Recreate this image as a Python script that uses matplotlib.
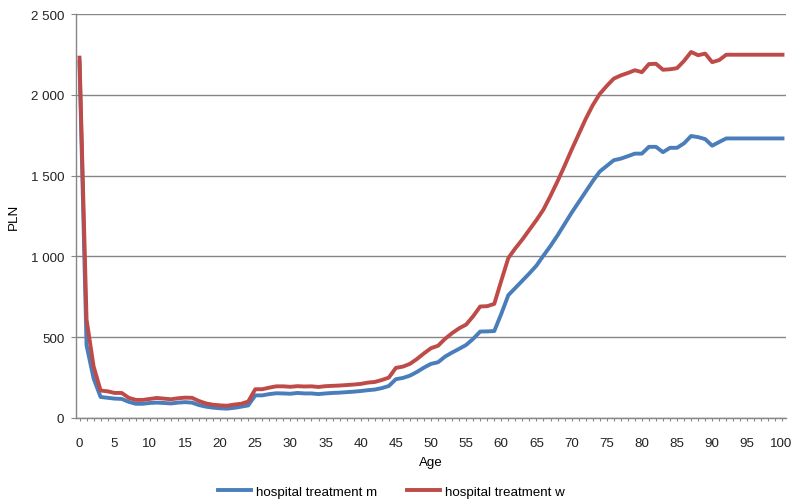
import matplotlib
matplotlib.use("Agg")
import matplotlib.pyplot as plt
from matplotlib.ticker import FuncFormatter, MultipleLocator
from matplotlib.transforms import ScaledTranslation

ages = list(range(101))

men = [2200, 450, 245, 130, 125, 120, 118, 100, 88, 88,
       93, 95, 93, 90, 95, 98, 95, 80, 70, 64,
       60, 58, 63, 70, 78, 140, 140, 148, 153, 152,
       150, 155, 152, 152, 148, 152, 155, 157, 160, 163,
       167, 172, 176, 185, 198, 240, 248, 262, 285, 312,
       335, 345, 380, 405, 428, 452, 490, 535, 536, 538,
       645, 760, 805, 850, 895, 943, 1005, 1065, 1130, 1200,
       1270, 1335, 1400, 1465, 1525, 1560, 1595, 1605, 1620, 1636,
       1636, 1678, 1678, 1645, 1672, 1672, 1700, 1745, 1738, 1726,
       1685, 1708, 1730, 1730, 1730, 1730, 1730, 1730, 1730, 1730,
       1730]

women = [2230, 610, 320, 170, 165, 155, 155, 125, 112, 112,
         118, 124, 120, 116, 122, 126, 125, 105, 90, 82,
         78, 76, 83, 88, 102, 178, 178, 188, 196, 196,
         193, 197, 195, 196, 192, 197, 199, 201, 204, 207,
         211, 219, 223, 235, 250, 310, 318, 335, 365, 400,
         432, 447, 490, 525, 555, 578, 630, 690, 692, 706,
         850, 990, 1050, 1105, 1165, 1225, 1290, 1375, 1465, 1560,
         1660, 1755, 1850, 1935, 2005, 2055, 2100, 2120, 2135, 2152,
         2140, 2190, 2192, 2155, 2158, 2165, 2210, 2265, 2245, 2255,
         2202, 2215, 2248, 2248, 2248, 2248, 2248, 2248, 2248, 2248,
         2248]

labels = ["hospital treatment m", "hospital treatment w"]
colors = ["#4A7EBB", "#BE4B48"]

plt.rcParams["font.family"] = ["Liberation Sans", "DejaVu Sans"]
fs = 9.6

grey = "#868686"

fig = plt.figure(figsize=(7.91, 5.02), dpi=100)
ax = fig.add_axes([76 / 791, 83 / 502, 710 / 791, 404 / 502])

ax.plot(ages, men, color=colors[0], lw=2.8, label=labels[0], zorder=3)
ax.plot(ages, women, color=colors[1], lw=2.8, label=labels[1], zorder=4)

ax.set_xlim(-0.5, 100.5)
ax.set_ylim(0, 2500)

ax.xaxis.set_major_locator(MultipleLocator(5))
ax.xaxis.set_minor_locator(MultipleLocator(1))
ax.yaxis.set_major_locator(MultipleLocator(500))
ax.yaxis.set_major_formatter(FuncFormatter(lambda v, p: f"{v:,.0f}".replace(",", " ")))

ax.grid(axis="y", color=grey, lw=1.0, zorder=0)
for s in ("top", "right"):
    ax.spines[s].set_visible(False)
for s in ("left", "bottom"):
    ax.spines[s].set_color(grey)
    ax.spines[s].set_linewidth(1.0)

ax.tick_params(axis="x", which="both", length=2.5, width=0.8, color=grey,
               pad=11, labelsize=fs, labelcolor="#222222")
ax.tick_params(axis="y", length=3.5, width=0.8, color=grey, pad=5,
               labelsize=fs, labelcolor="#222222")

ax.set_xlabel("Age", fontsize=fs, labelpad=5)
ax.set_ylabel("PLN", fontsize=fs, labelpad=8)

fig.legend(loc="center", bbox_to_anchor=(0.4946, 0.019), ncol=2,
           frameon=False, handlelength=2.5, handletextpad=0.35,
           columnspacing=2.2, fontsize=fs)

# keep the last x label ("100") inside the figure edge
fig.canvas.draw()
for lab in ax.get_xticklabels():
    if lab.get_text() == "100":
        lab.set_ha("right")
        lab.set_transform(lab.get_transform()
                          + ScaledTranslation(0.095, 0, fig.dpi_scale_trans))

fig.savefig("out.png", dpi=100)
